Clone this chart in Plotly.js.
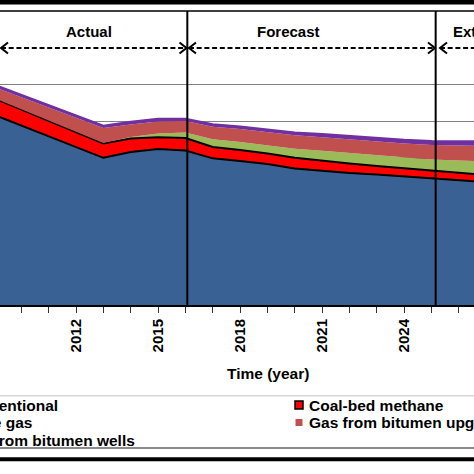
<!DOCTYPE html>
<html>
<head>
<meta charset="utf-8">
<script src="https://cdn.plot.ly/plotly-3.0.1.min.js"></script>
<style>html,body{margin:0;padding:0;background:#fff;}#chart{width:474px;height:474px;}</style>
</head>
<body>
<div id="chart"></div>
<script>
// ---- data ----
const years = [2009,2010,2011,2012,2013,2014,2015,2016,2017,2018,2019,2020,2021,2022,2023,2024,2025,2026,2027];
const conventional     = [10.35,9.76,9.18,8.59,8.01,8.33,8.49,8.41,7.98,7.84,7.67,7.43,7.29,7.19,7.10,7.01,6.92,6.81,6.69];
const coalBedMethane   = [0.91,0.88,0.84,0.81,0.78,0.73,0.64,0.68,0.62,0.60,0.58,0.58,0.55,0.51,0.46,0.42,0.38,0.37,0.38];
const shaleGas         = [0,0,0,0,0.03,0.08,0.21,0.30,0.42,0.43,0.44,0.49,0.56,0.57,0.58,0.60,0.62,0.68,0.74];
const bitumenUpgrading = [0.61,0.66,0.73,0.79,0.81,0.68,0.64,0.62,0.68,0.71,0.73,0.74,0.73,0.74,0.76,0.76,0.79,0.82,0.84];
const bitumenWells     = [0.13,0.13,0.12,0.13,0.13,0.15,0.16,0.13,0.14,0.14,0.14,0.15,0.18,0.18,0.18,0.20,0.21,0.23,0.26];
const seriesNames = ['Conventional','Coal-bed methane','Shale gas','Gas from bitumen upgrading','Gas from bitumen wells'];
const periodLabels = ['Actual','Forecast','Extrapolation'];
const periodBounds = [2016.07, 2025.15];
const xTitle = 'Time (year)';

// ---- styles ----
const FONT = '"Liberation Sans", Arial, sans-serif';
const fillColors = ['#3A6194','#FF0000','#9BBB59','#C0504D','#7030A0'];
const lineColors = ['#000000','#000000','#9BBB59','#C0504D','#7030A0'];
const lineWidths = [2,2,0,0,2];
const seriesValues = [conventional, coalBedMethane, shaleGas, bitumenUpgrading, bitumenWells];

const W = 474, H = 474, T = 11, B = 305;
const XR = [2009.221, 2026.552];
const YR = [0, 16];
const pxX = (W) / (XR[1]-XR[0]);
const pxY = (B - T) / (YR[1]-YR[0]);
const px2x = p => XR[0] + p/pxX;
const py2y = p => (B - p)/pxY;
const pxp = p => p / W;                 // paper x
const pyp = p => (B - p) / (B - T);     // paper y

const traces = seriesValues.map((vals, i) => ({
  type: 'scatter', mode: 'lines', x: years, y: vals, name: seriesNames[i],
  stackgroup: 'one', fillcolor: fillColors[i],
  line: {color: lineColors[i], width: lineWidths[i], shape: 'linear'},
  showlegend: false, hoverinfo: 'skip'
}));

const shapes = [];
// vertical period dividers
periodBounds.forEach(xb => shapes.push({type:'line', xref:'x', yref:'y', x0:xb, x1:xb, y0:YR[0], y1:YR[1], line:{color:'#000', width:2}, layer:'above'}));
// dashed arrows
const arrowY = py2y(48);
const dx = 7/pxX, dy = 5.5/pxY;
function arrow(xa, xb) {
  shapes.push({type:'line', xref:'x', yref:'y', x0:xa, x1:xb, y0:arrowY, y1:arrowY, line:{color:'#000', width:2, dash:'5px,2.7px'}, layer:'above'});
  shapes.push({type:'path', xref:'x', yref:'y', path:`M${xa+dx},${arrowY+dy} L${xa},${arrowY} L${xa+dx},${arrowY-dy}`, line:{color:'#000', width:2}, layer:'above'});
  shapes.push({type:'path', xref:'x', yref:'y', path:`M${xb-dx},${arrowY+dy} L${xb},${arrowY} L${xb-dx},${arrowY-dy}`, line:{color:'#000', width:2}, layer:'above'});
}
arrow(px2x(1), px2x(186.5));
arrow(px2x(189), px2x(435));
arrow(px2x(440), px2x(520));
// frame lines
shapes.push({type:'rect', xref:'paper', yref:'paper', x0:pxp(-5), x1:pxp(W+5), y0:pyp(0), y1:pyp(4.5), fillcolor:'#000', line:{width:0}});
shapes.push({type:'line', xref:'paper', yref:'paper', x0:pxp(-5), x1:pxp(W+5), y0:pyp(11), y1:pyp(11), line:{color:'#000', width:1.5}});
shapes.push({type:'line', xref:'paper', yref:'paper', x0:pxp(-5), x1:pxp(W+5), y0:pyp(395.7), y1:pyp(395.7), line:{color:'#d6d6d6', width:1.5}});
shapes.push({type:'line', xref:'paper', yref:'paper', x0:pxp(-5), x1:pxp(W+5), y0:pyp(448), y1:pyp(448), line:{color:'#8a8a8a', width:2}});
shapes.push({type:'line', xref:'paper', yref:'paper', x0:pxp(-5), x1:pxp(W+5), y0:pyp(459.3), y1:pyp(459.3), line:{color:'#000', width:4}});

const annotations = [];
const f15 = {family:FONT, size:15, weight:'bold', color:'#000'};
const f155 = {family:FONT, size:15.5, weight:'bold', color:'#000'};
// period labels
annotations.push({xref:'x', yref:'y', x:px2x(88.5), y:py2y(31.5), xanchor:'center', yanchor:'middle', text:periodLabels[0], showarrow:false, font:f15});
annotations.push({xref:'x', yref:'y', x:px2x(288.5), y:py2y(31.5), xanchor:'center', yanchor:'middle', text:periodLabels[1], showarrow:false, font:f15});
annotations.push({xref:'x', yref:'y', x:px2x(452), y:py2y(31.5), xanchor:'left', yanchor:'middle', borderpad:0, text:periodLabels[2], showarrow:false, font:f15});
// x title
annotations.push({xref:'paper', yref:'paper', x:pxp(268), y:pyp(373), xanchor:'center', yanchor:'middle', text:xTitle, showarrow:false, font:f155});
// legend
const colX = [-41, 308], rowY = [405, 422.5, 440];
seriesNames.forEach((nm, i) => {
  const c = i % 2, r = Math.floor(i/2);
  annotations.push({xref:'paper', yref:'paper', x:pxp(colX[c]), y:pyp(rowY[r]), xanchor:'left', yanchor:'middle', borderpad:0, text:nm, showarrow:false, font:f155});
  const bordered = lineWidths[i] > 0 && lineColors[i] === '#000000';
  const s = bordered ? 4 : 3.5, cx = colX[c] - 9;
  shapes.push({type:'rect', xref:'paper', yref:'paper', x0:pxp(cx-s), x1:pxp(cx+s), y0:pyp(rowY[r]+s), y1:pyp(rowY[r]-s), fillcolor:fillColors[i], line:{color: bordered ? '#000' : fillColors[i], width: bordered ? 1.5 : 0}});
});

const layout = {
  width: W, height: H,
  margin: {l:0, r:0, t:T, b:H-B, pad:0, autoexpand:false},
  paper_bgcolor:'#fff', plot_bgcolor:'#fff',
  showlegend:false,
  xaxis: {range:XR, tick0:2012, dtick:3, tickangle:-90, ticks:'outside', ticklen:6, tickcolor:'#333', tickwidth:1,
          minor:{dtick:1, ticks:'outside', ticklen:6, tickcolor:'#333', tickwidth:1, showgrid:false},
          showgrid:false, zeroline:false, showline:true, linecolor:'#000', linewidth:2,
          tickfont:{family:FONT, size:15, weight:'bold', color:'#000'}, fixedrange:true},
  yaxis: {range:YR, tickvals:[2,4,6,8,10,12], showticklabels:false, ticks:'', showgrid:true, gridcolor:'#808080', gridwidth:1.5,
          zeroline:false, showline:false, fixedrange:true},
  shapes: shapes, annotations: annotations
};
Plotly.newPlot('chart', traces, layout, {displayModeBar:false, staticPlot:true});
</script>
</body>
</html>
